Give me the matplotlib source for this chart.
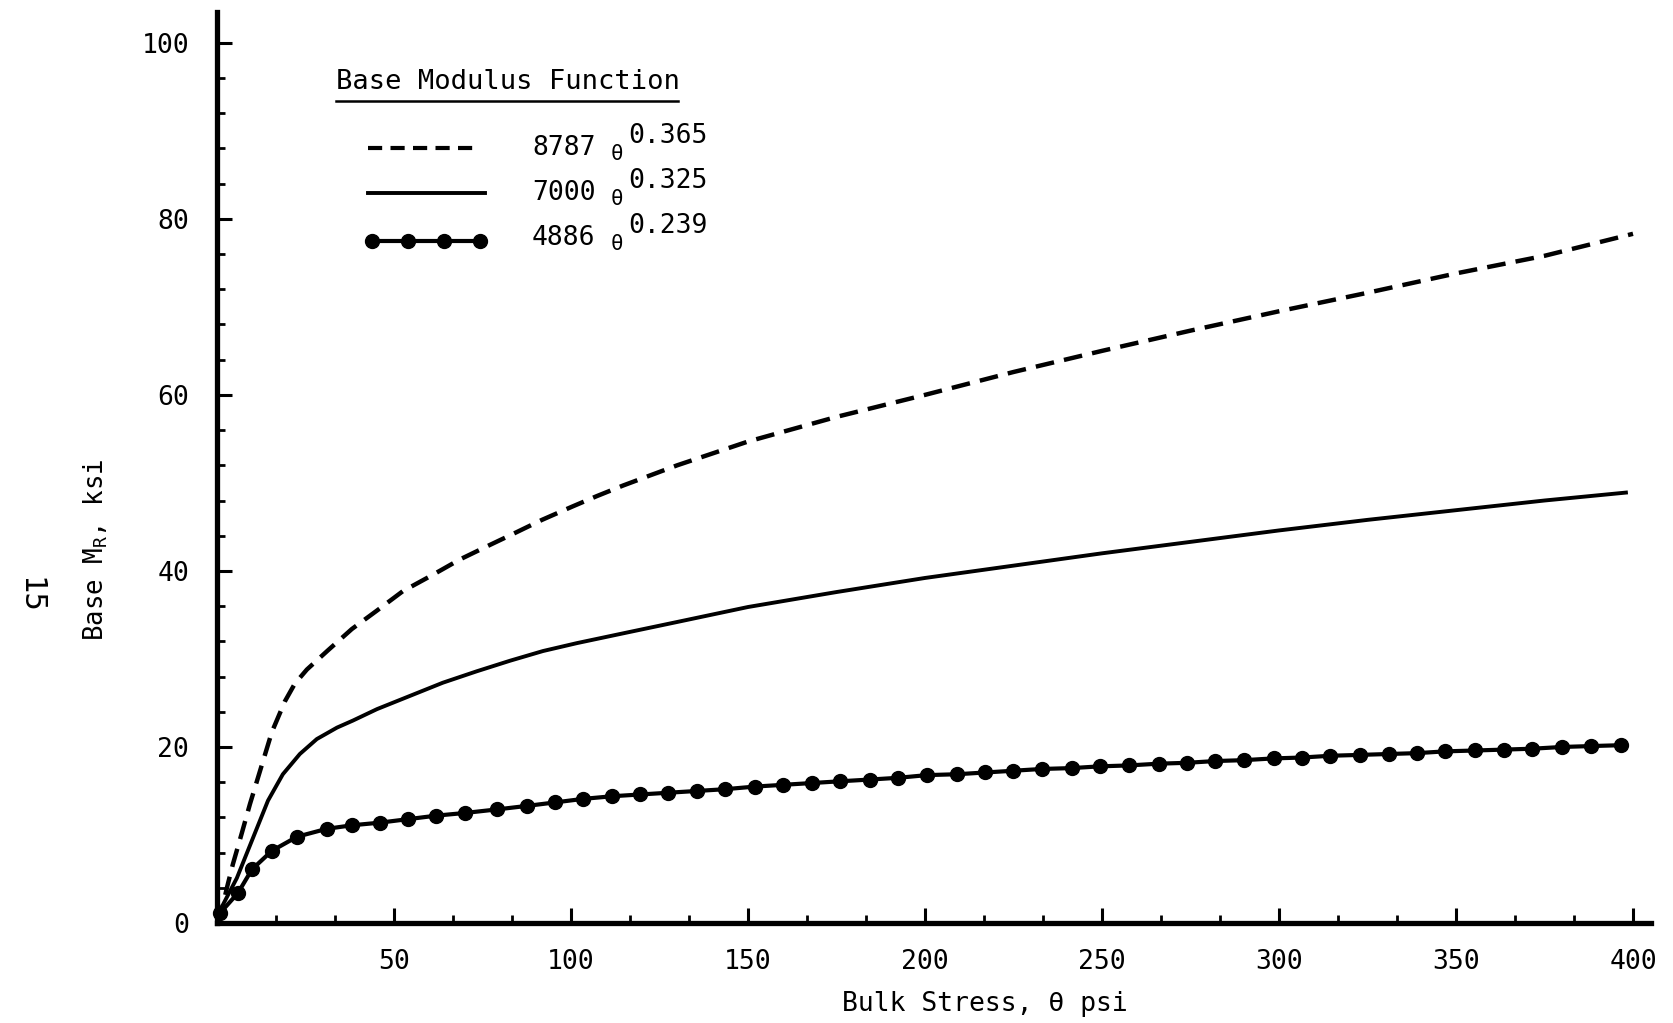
import matplotlib
matplotlib.use("Agg")
from matplotlib import pyplot as plt
from matplotlib.lines import Line2D

plt.rcParams['font.family'] = ['DejaVu Sans Mono', 'DejaVu Sans']
plt.rcParams['mathtext.fontset'] = 'custom'
plt.rcParams['mathtext.rm'] = 'DejaVu Sans Mono'
plt.rcParams['mathtext.it'] = 'DejaVu Sans Mono'

# values (theta in psi, modulus in ksi)
theta_dash = [0.5, 2.8, 4.5, 7, 9.3, 12.7, 15.5, 19.2, 22, 25.4, 31.4, 38.1, 45.2, 52.5,
              60.7, 68.6, 76.3, 83.6, 91.8, 100.3, 107.3, 114.7, 130, 150, 175, 200, 225,
              250, 275, 300, 325, 350, 375, 400]
mr_dash = [0.0, 4.0, 6.7, 10.2, 13.5, 18.0, 21.7, 25.2, 27.2, 28.8, 31.0, 33.4, 35.5, 37.7,
           39.5, 41.3, 42.8, 44.2, 45.8, 47.3, 48.5, 49.7, 52.0, 54.7, 57.5, 60.0, 62.6,
           65.0, 67.3, 69.5, 71.6, 73.8, 75.8, 78.3]

theta_solid = [0.8, 5.6, 10.2, 14.4, 18.6, 23.4, 28.2, 33.9, 38.4, 45.2, 54.5, 63.8, 73.4,
               82.8, 92.1, 101.7, 115.8, 130, 150, 175, 200, 225, 250, 275, 300, 325, 350,
               375, 398]
mr_solid = [1.4, 5.1, 9.7, 13.9, 16.9, 19.2, 20.9, 22.2, 23.0, 24.3, 25.8, 27.3, 28.6, 29.8,
            30.9, 31.8, 33.0, 34.2, 35.9, 37.6, 39.2, 40.6, 42.0, 43.3, 44.6, 45.8, 46.9,
            48.0, 48.9]

theta_dot = [0.8, 5.9, 9.9, 15.5, 22.6, 31, 38.1, 46, 54, 62, 70, 79, 87.5, 95.5, 103.4,
             111.6, 119.5, 127.5, 135.5, 143.5, 152, 160, 168, 176, 184.5, 192.5, 200.5,
             209, 217, 225, 233, 241.5, 249.5, 257.5, 266, 274, 282, 290, 298.5, 306.5,
             314.5, 323, 331, 339, 347, 355.5, 363.5, 371.5, 380, 388, 396.5]
mr_dot = [1.1, 3.4, 6.1, 8.2, 9.8, 10.7, 11.1, 11.4, 11.8, 12.2, 12.5, 12.9, 13.3, 13.7,
          14.1, 14.4, 14.6, 14.8, 15.0, 15.2, 15.5, 15.7, 15.9, 16.1, 16.3, 16.5, 16.8,
          16.9, 17.1, 17.3, 17.5, 17.6, 17.8, 17.9, 18.1, 18.2, 18.4, 18.5, 18.7, 18.8,
          19.0, 19.1, 19.2, 19.3, 19.5, 19.6, 19.7, 19.8, 20.0, 20.1, 20.2]

x_ticks = [50, 100, 150, 200, 250, 300, 350, 400]
y_ticks = [0, 20, 40, 60, 80, 100]
legend_labels = [("8787", "0.365"), ("7000", "0.325"), ("4886", "0.239")]

W, H = 1674, 1023
fig = plt.figure(figsize=(W / 100, H / 100), dpi=100)
ax = fig.add_axes([217 / W, 100 / H, (1650.7 - 217) / W, (923 - 12) / H])

ax.plot(theta_dash, mr_dash, color='black', lw=3.2, dashes=(4.2, 2.3), clip_on=False)
ax.plot(theta_solid, mr_solid, color='black', lw=2.8, clip_on=False)
ax.plot(theta_dot, mr_dot, color='black', lw=3, marker='o', ms=10, clip_on=False)

ax.set_xlim(0, 405)
ax.set_ylim(0, 103.5)
ax.set_xticks(x_ticks)
ax.set_yticks(y_ticks)
ax.set_xticks([v * 50 / 3 for v in range(1, 25)], minor=True)
ax.set_yticks(range(0, 104, 4), minor=True)

for s in ['top', 'right']:
    ax.spines[s].set_visible(False)
for s in ['left', 'bottom']:
    ax.spines[s].set_linewidth(3.8)

ax.tick_params(axis='both', which='major', direction='in', length=11, width=2.2,
               labelsize=19)
ax.tick_params(axis='x', which='major', pad=19)
ax.tick_params(axis='y', which='major', pad=20)
ax.tick_params(axis='both', which='minor', direction='in', length=6, width=2)

# labels placed in pixel terms to follow the scan
fig.text(96 / W, 1 - 550 / H, 'Base M$_\\mathrm{R}$, ksi', rotation=90, fontsize=18.5,
         ha='center', va='center')
fig.text(985 / W, 1 - 1004 / H, 'Bulk Stress, \u03b8 psi', fontsize=19,
         ha='center', va='center')
fig.text(30 / W, 1 - 595 / H, '15', rotation=-90, fontsize=22, ha='center', va='center')

# hand-drawn legend
lg = fig.add_axes([0, 0, 1, 1], facecolor='none')
lg.set_xlim(0, W)
lg.set_ylim(H, 0)
lg.axis('off')
lg.text(336, 82, 'Base Modulus Function', fontsize=19.5, va='center', ha='left')
lg.add_line(Line2D([336, 678], [101, 101], color='black', lw=1.8))
lg.add_line(Line2D([368, 480], [148, 148], color='black', lw=3, dashes=(3.4, 2.0)))
lg.add_line(Line2D([368, 485], [193, 193], color='black', lw=2.8))
lg.add_line(Line2D([372, 408, 444, 480], [241, 241, 241, 241], color='black', lw=3,
                   marker='o', ms=10))
for i, (coef, expo) in enumerate(legend_labels):
    yc = 148 + 45 * i
    lg.text(532, yc, coef, fontsize=19, va='center', ha='left')
    lg.text(611, yc + 6, '\u03b8', fontsize=15, va='center', ha='left')
    lg.text(628, yc - 12, expo, fontsize=19, va='center', ha='left')

fig.savefig('out.png', dpi=100, facecolor='white')
